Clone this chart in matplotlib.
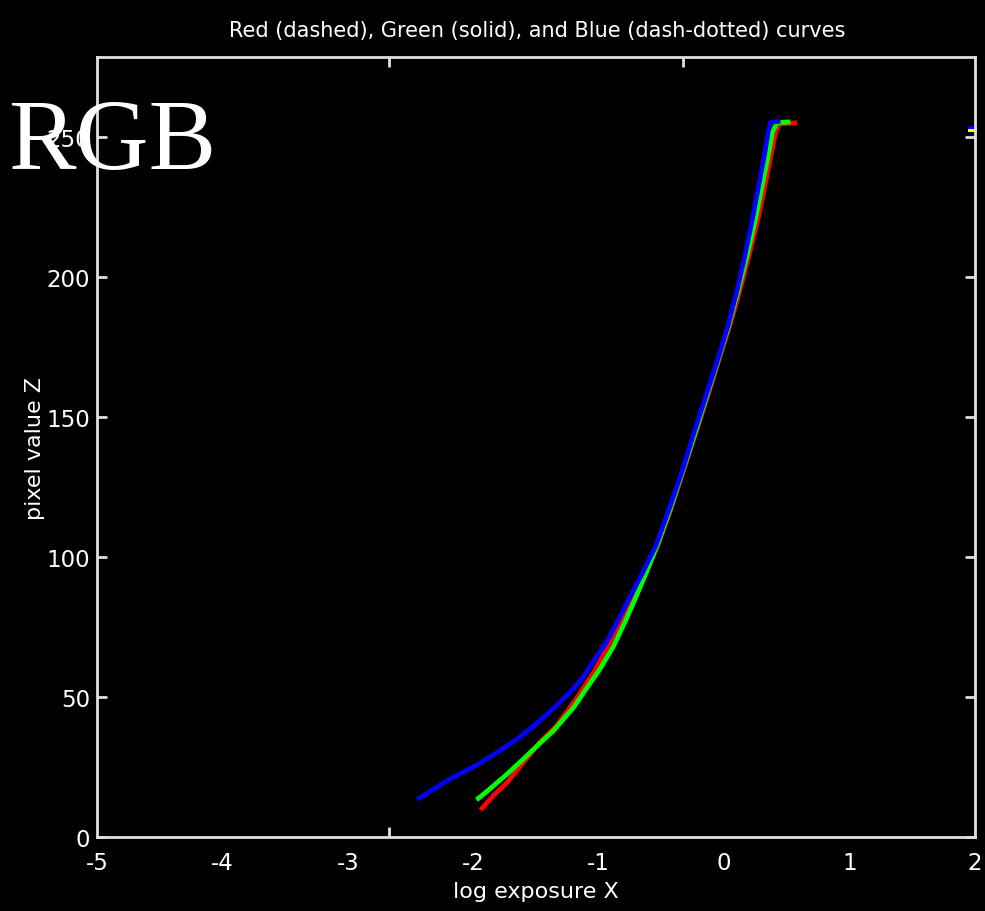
import numpy as np
import matplotlib
matplotlib.use('Agg')
import matplotlib.pyplot as plt

# response curves (log exposure X, pixel value Z)
blue_x = [-2.43, -2.21, -1.97, -1.81, -1.65, -1.53, -1.41, -1.31, -1.20, -1.12, -1.04,
          -0.94, -0.86, -0.78, -0.66, -0.545, -0.44, -0.33, -0.24, -0.145, -0.05, 0.03,
          0.105, 0.165, 0.225, 0.275, 0.325, 0.35, 0.37, 0.43]
blue_y = [13.9, 20.1, 25.8, 30.2, 35.0, 39.2, 43.9, 48.1, 53.1, 57.4, 63.0,
          69.5, 76.1, 83.2, 93.5, 104, 117, 131.4, 144.5, 157.6, 170.7, 182.6,
          195.7, 207.6, 220.7, 232.6, 244.5, 251.7, 255.2, 255.5]

green_x = [-1.96, -1.87, -1.73, -1.60, -1.49, -1.36, -1.20, -1.10, -0.99, -0.88, -0.78,
           -0.71, -0.62, -0.535, -0.43, -0.325, -0.23, -0.138, -0.045, 0.036, 0.115,
           0.183, 0.25, 0.303, 0.356, 0.385, 0.42, 0.51]
green_y = [13.8, 17.1, 22.5, 27.9, 32.6, 38.0, 46.3, 52.9, 60.0, 68.3, 77.9,
           85.0, 94.5, 104, 117.1, 131.4, 144.5, 157.6, 170.7, 182.6, 195.7,
           207.6, 220.7, 232.6, 244.5, 251.7, 255, 255.3]

red_x = [-1.93, -1.84, -1.73, -1.60, -1.47, -1.335, -1.18, -1.04, -0.91, -0.765, -0.70,
         -0.61, -0.53, -0.425, -0.32, -0.225, -0.13, -0.04, 0.045, 0.128, 0.198,
         0.27, 0.325, 0.378, 0.41, 0.44, 0.565]
red_y = [10.3, 14.8, 19.5, 26.7, 33.8, 39.8, 49.3, 58.8, 69.5, 82.6, 88,
         96, 104, 117.1, 131.4, 144.5, 157.6, 170.7, 182.6, 195.7, 207.6,
         220.7, 232.6, 244.5, 251.7, 254.6, 255]

# little clipped piece at the right edge
edge_x = [1.955, 2.0]
edge_blue_y = [253.5, 253.5]
edge_yellow_y = [252.3, 252.3]

xticks = [-5, -4, -3, -2, -1, 0, 1, 2]
yticks = [0, 50, 100, 150, 200, 250]

fig = plt.figure(figsize=(9.85, 9.12), dpi=100, facecolor='black')
ax = fig.add_axes([0.0985, 0.0811, 0.8914, 0.8553], facecolor='black')

ax.plot(red_x, red_y, color='#ff0000', lw=3.4)
ax.plot(green_x, green_y, color='#00ff00', lw=3.4)
ax.plot(blue_x, blue_y, color='#0000ff', lw=3.4)
ax.plot(edge_x, edge_blue_y, color='#0000ff', lw=2.2, clip_on=False)
ax.plot(edge_x, edge_yellow_y, color='#ffff00', lw=2.2, clip_on=False)

ax.set_xlim(-5, 2)
ax.set_ylim(0, 278.5)

for s in ax.spines.values():
    s.set_color('#e0e0e0')
    s.set_linewidth(2)

ax.set_xticks(xticks)
ax.set_xticklabels([str(v) for v in xticks], fontsize=16.5, color='white')
ax.set_yticks(yticks)
ax.set_yticklabels([str(v) for v in yticks], fontsize=16.5, color='white')
ax.tick_params(axis='x', length=0, pad=10)
ax.tick_params(axis='y', direction='in', length=7, width=2, color='#e0e0e0',
               right=True, pad=5)
ax.set_xticks([-2.67], minor=True)
ax.tick_params(axis='x', which='minor', direction='in', length=7, width=2,
               color='#e0e0e0', top=True)
sec = ax.secondary_xaxis('top')
sec.set_xticks([-0.33])
sec.set_xticklabels([''])
sec.tick_params(direction='in', length=7, width=2, color='#e0e0e0')
sec.spines['top'].set_visible(False)

ax.set_xlabel('log exposure X', fontsize=16, color='white', labelpad=5)
ax.set_ylabel('pixel value Z', fontsize=16, color='white', labelpad=1)
fig.text(0.545, 0.966, 'Red (dashed), Green (solid), and Blue (dash-dotted) curves',
         fontsize=15, color='white', ha='center', va='center')

fig.text(0.008, 0.8136, 'RGB', family='Liberation Serif', fontsize=73, color='white',
         ha='left', va='baseline')

fig.savefig('out.png', dpi=100, facecolor='black')
